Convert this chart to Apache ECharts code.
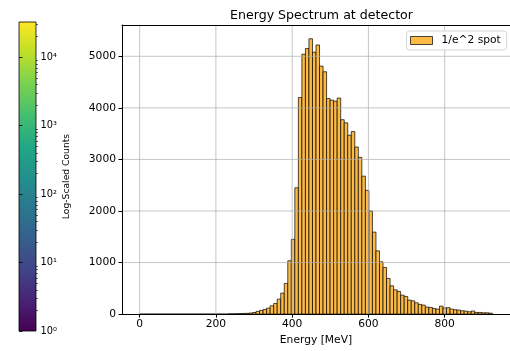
<!DOCTYPE html>
<html><head><meta charset="utf-8">
<script src="https://cdn.jsdelivr.net/npm/echarts@6/dist/echarts.min.js"></script>
<style>html,body{margin:0;padding:0;background:#fff}#c{width:510px;height:351px}</style>
</head><body><div id="c"></div>
<script>
// Histogram: 100 bins of width 9.25 MeV starting at 0
const binStart = 0;
const binWidth = 9.25;
const counts = [
  0,0,0,0,0,0,0,0,0,0,
  0,0,0,0,0,0,0,0,0,0,
  0,0,0,0,0,5,6,8,10,12,
  15,20,31,52,72,90,116,161,207,290,
  407,595,1033,1450,2450,4200,5040,5150,5340,5080,
  5220,4810,4700,4180,4150,4130,4190,3770,3710,3470,
  3540,3240,3040,2675,2400,2000,1590,1227,1014,905,
  692,549,471,440,368,343,271,258,219,188,
  174,136,130,110,97,155,120,125,97,85,
  78,65,58,45,60,32,32,25,25,18
];
const seriesName = '1/e^2 spot';
const xTicks = [0, 200, 400, 600, 800];
const yTicks = [0, 1000, 2000, 3000, 4000, 5000];
const xLimits = [-46.25, 971.25];
const yLimits = [0, 5607];
// Colorbar (log scale 1 .. 32400)
const cbarLimits = [1, 32400];
const cbarTicks = [1, 10, 100, 1000, 10000];
const cbarTickLabels = ['10⁰', '10¹', '10²', '10³', '10⁴'];
const cbarMinorTicks = [2,3,4,5,6,7,8,9,20,30,40,50,60,70,80,90,200,300,400,500,600,700,800,900,
  2000,3000,4000,5000,6000,7000,8000,9000,20000,30000];
const viridis = ['#440154','#482475','#414487','#355f8d','#2a788e','#21918c','#22a884','#44bf70','#7ad151','#bddf26','#fde725'];

const FONT = 'DejaVu Sans';
const barFill = '#FDBA45';
const barEdge = 'rgba(0,0,0,0.7)';

const barData = counts.map((c, i) => [binStart + i * binWidth, binStart + (i + 1) * binWidth, c]);
const gridLineData = xTicks.map(v => ['x', v]).concat(yTicks.filter(v => v > 0).map(v => ['y', v]));
const lg = v => Math.log10(v);

const chart = echarts.init(document.getElementById('c'), null, {renderer: 'canvas'});
chart.setOption({
  animation: false,
  textStyle: {fontFamily: FONT},
  title: {
    text: 'Energy Spectrum at detector',
    left: 316.5, top: 4, textAlign: 'center',
    textStyle: {fontFamily: FONT, fontSize: 12.6, fontWeight: 'normal', color: '#000'}
  },
  legend: {
    left: 406.5, top: 31,
    data: [{name: seriesName, icon: 'rect', itemStyle: {color: barFill, borderColor: barEdge, borderWidth: 1}}],
    itemWidth: 22, itemHeight: 8,
    padding: [4, 6, 4, 3.5],
    backgroundColor: 'rgba(255,255,255,0.85)',
    borderColor: '#d5d5d5', borderWidth: 1, borderRadius: 3,
    textStyle: {fontFamily: FONT, fontSize: 10.7, color: '#000', padding: [0, 0, 0, 4]}
  },
  grid: [
    {left: 122, top: 25, width: 389, height: 290, containLabel: false},
    {left: 19, top: 22, width: 17, height: 309, containLabel: false, show: true, borderColor: '#000', borderWidth: 0.8}
  ],
  xAxis: [
    {
      type: 'value', gridIndex: 0, min: xLimits[0], max: xLimits[1],
      axisLine: {show: true, onZero: false, lineStyle: {color: '#000', width: 1}},
      axisTick: {show: true, customValues: xTicks, length: 3.5, lineStyle: {color: '#000', width: 1}},
      axisLabel: {customValues: xTicks, fontSize: 10.7, color: '#000', margin: 5, fontFamily: FONT,
        formatter: v => String(v)},
      splitLine: {show: false},
      name: 'Energy [MeV]', nameLocation: 'middle', nameGap: 19,
      nameTextStyle: {fontFamily: FONT, fontSize: 10.7, color: '#000'}
    },
    {
      type: 'value', gridIndex: 0, position: 'top', min: xLimits[0], max: xLimits[1],
      axisLine: {show: true, onZero: false, lineStyle: {color: '#000', width: 1}},
      axisTick: {show: false}, axisLabel: {show: false}, splitLine: {show: false}
    },
    {type: 'value', gridIndex: 1, min: 0, max: 1, show: false}
  ],
  yAxis: [
    {
      type: 'value', gridIndex: 0, min: yLimits[0], max: yLimits[1],
      axisLine: {show: true, onZero: false, lineStyle: {color: '#000', width: 1}},
      axisTick: {show: true, customValues: yTicks, length: 3.5, lineStyle: {color: '#000', width: 1}},
      axisLabel: {customValues: yTicks, fontSize: 10.7, color: '#000', margin: 6, fontFamily: FONT,
        formatter: v => String(v)},
      splitLine: {show: false}
    },
    {
      type: 'value', gridIndex: 1, position: 'right', min: lg(cbarLimits[0]), max: lg(cbarLimits[1]),
      axisLine: {show: false},
      axisTick: {show: true, customValues: cbarTicks.map(lg), length: 3.5, lineStyle: {color: '#000', width: 0.8}},
      axisLabel: {
        customValues: cbarTicks.map(lg), fontSize: 9.8, color: '#000', margin: 4.5, fontFamily: FONT,
        formatter: v => cbarTickLabels[cbarTicks.map(lg).findIndex(t => Math.abs(t - v) < 1e-6)] || ''
      },
      splitLine: {show: false},
      name: 'Log-Scaled Counts', nameLocation: 'middle', nameRotate: 90, nameGap: 26,
      nameTextStyle: {fontFamily: FONT, fontSize: 9.2, color: '#000'}
    }
  ],
  series: [
    {
      type: 'custom', name: seriesName, xAxisIndex: 0, yAxisIndex: 0, z: -2, clip: true,
      itemStyle: {color: barFill, borderColor: barEdge},
      data: barData,
      renderItem: (params, api) => {
        const p0 = api.coord([api.value(0), api.value(2)]);
        const p1 = api.coord([api.value(1), 0]);
        return {type: 'rect', shape: {x: p0[0], y: p0[1], width: p1[0] - p0[0], height: p1[1] - p0[1]},
          style: {fill: barFill, stroke: barEdge, lineWidth: 1}};
      }
    },
    {
      type: 'custom', xAxisIndex: 0, yAxisIndex: 0, z: -1, silent: true,
      data: gridLineData,
      renderItem: (params, api) => {
        const kind = gridLineData[params.dataIndex][0];
        const v = gridLineData[params.dataIndex][1];
        let a, b;
        if (kind === 'x') { a = api.coord([v, yLimits[0]]); b = api.coord([v, yLimits[1]]); }
        else { a = api.coord([xLimits[0], v]); b = api.coord([xLimits[1], v]); }
        return {type: 'line', shape: {x1: a[0], y1: a[1], x2: b[0], y2: b[1]},
          style: {stroke: '#b0b0b0', lineWidth: 0.8, opacity: 0.9}};
      }
    },
    {
      type: 'custom', xAxisIndex: 2, yAxisIndex: 1, z: -2, silent: true,
      data: [[0, 1, lg(cbarLimits[0]), lg(cbarLimits[1])]],
      renderItem: (params, api) => {
        const p0 = api.coord([api.value(0), api.value(3)]);
        const p1 = api.coord([api.value(1), api.value(2)]);
        return {type: 'rect', shape: {x: p0[0], y: p0[1], width: p1[0] - p0[0], height: p1[1] - p0[1]},
          style: {fill: new echarts.graphic.LinearGradient(0, 1, 0, 0,
            viridis.map((c, i) => ({offset: i / (viridis.length - 1), color: c})))}};
      }
    },
    {
      type: 'custom', xAxisIndex: 2, yAxisIndex: 1, silent: true,
      data: cbarMinorTicks.filter(v => v <= cbarLimits[1]).map(v => [1, lg(v)]),
      renderItem: (params, api) => {
        const p = api.coord([api.value(0), api.value(1)]);
        const y = Math.round(p[1]) + 0.5;
        return {type: 'line', shape: {x1: p[0], y1: y, x2: p[0] + 2, y2: y},
          style: {stroke: '#000', lineWidth: 0.6}};
      }
    }
  ]
});
</script>
</body></html>
